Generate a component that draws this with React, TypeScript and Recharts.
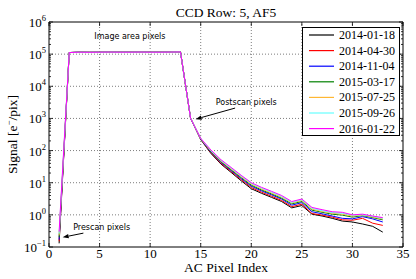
import React from "react";
import {
  LineChart,
  Line,
  XAxis,
  YAxis,
  ReferenceLine,
  ReferenceDot,
  ReferenceArea,
} from "recharts";

// AC pixel index
const pixel = [
  1, 2, 3, 4, 5, 6, 7, 8, 9, 10, 11, 12, 13, 14, 15, 16, 17, 18, 19, 20, 21,
  22, 23, 24, 25, 26, 27, 28, 29, 30, 31, 32, 33,
];

// shared image-area plateau (x = 2..14)
const plateau = [
  1.12e5, 1.15e5, 1.14e5, 1.15e5, 1.16e5, 1.15e5, 1.15e5, 1.16e5, 1.15e5,
  1.15e5, 1.16e5, 1.17e5, 1000,
];

const s20140118 = [0.13, ...plateau, 220, 82, 38, 21, 11.5, 6.5, 4.7, 3.5, 2.6, 1.65, 1.95, 1.05, 0.92, 0.78, 0.64, 0.6, 0.52, 0.44, 0.29];
const s20140430 = [0.15, ...plateau, 225, 86, 40, 22.5, 12.5, 7.1, 5.1, 3.8, 2.8, 1.8, 2.15, 1.1, 0.98, 0.85, 0.7, 0.68, 0.78, 0.55, 0.47];
const s20141104 = [0.17, ...plateau, 228, 90, 43, 24, 13.5, 7.8, 5.6, 4.2, 3.1, 2.0, 2.4, 1.25, 1.08, 0.92, 0.78, 0.75, 0.88, 0.75, 0.6];
const s20150317 = [0.2, ...plateau, 232, 94, 45.5, 25.5, 14.5, 8.4, 6.0, 4.5, 3.3, 2.2, 2.6, 1.4, 1.2, 1.05, 0.98, 0.85, 0.95, 0.82, 0.7];
const s20150725 = [0.23, ...plateau, 235, 97, 47.5, 27, 15.3, 9.0, 6.4, 4.8, 3.55, 2.35, 2.8, 1.5, 1.28, 1.12, 1.05, 0.92, 0.98, 0.86, 0.74];
const s20150926 = [0.26, ...plateau, 238, 100, 49.5, 28.5, 16.2, 9.5, 6.8, 5.1, 3.75, 2.45, 2.95, 1.6, 1.35, 1.18, 1.12, 0.98, 1.0, 0.9, 0.78];
const s20160122 = [0.3, ...plateau, 240, 105, 52, 30, 17, 10, 7.2, 5.4, 4.0, 2.6, 3.1, 1.7, 1.45, 1.25, 1.2, 1.0, 1.05, 0.92, 0.82];

const seriesNames = [
  "2014-01-18",
  "2014-04-30",
  "2014-11-04",
  "2015-03-17",
  "2015-07-25",
  "2015-09-26",
  "2016-01-22",
];
const seriesValues = [
  s20140118,
  s20140430,
  s20141104,
  s20150317,
  s20150725,
  s20150926,
  s20160122,
];
const colors = ["#000000", "#ff0000", "#0000ff", "#008000", "#ffb733", "#66ffff", "#ff00ff"];

const xTicks = [0, 5, 10, 15, 20, 25, 30, 35];
const yMajor = [0.1, 1, 10, 100, 1e3, 1e4, 1e5, 1e6];
const yTicks: number[] = [];
yMajor.forEach((d, i) => {
  yTicks.push(d);
  if (i < yMajor.length - 1) for (let k = 2; k <= 9; k++) yTicks.push(d * k);
});

const data = pixel.map((p, i) => {
  const row: Record<string, number> = { x: p };
  seriesValues.forEach((s, j) => (row["s" + j] = s[i]));
  return row;
});

// plot frame (layout)
const W = 416;
const H = 279;
const PL = 49;
const PR = 403;
const PT = 22;
const PB = 247;
const SERIF = "Liberation Serif, Times New Roman, serif";
const SANS = "DejaVu Sans, sans-serif";

function YTick({ y, payload }: any) {
  const v = payload.value;
  const e = Math.log10(v);
  const major = Math.abs(e - Math.round(e)) < 1e-6;
  const len = major ? 4 : 2;
  const exp = Math.round(e);
  return (
    <g>
      <line x1={PL} x2={PL + len} y1={y} y2={y} stroke="#000" strokeWidth={0.8} />
      <line x1={PR - len} x2={PR} y1={y} y2={y} stroke="#000" strokeWidth={0.8} />
      {major && (
        <text x={PL - 3} y={y + 5} textAnchor="end" fontFamily={SERIF} fontSize={13} fill="#000">
          10
          <tspan dy={-6} fontSize={8.5}>
            {exp < 0 ? "\u2212" + Math.abs(exp) : exp}
          </tspan>
        </text>
      )}
    </g>
  );
}

function XTick({ x, payload }: any) {
  return (
    <g>
      <line x1={x} x2={x} y1={PB} y2={PB - 4} stroke="#000" strokeWidth={0.8} />
      <line x1={x} x2={x} y1={PT} y2={PT + 4} stroke="#000" strokeWidth={0.8} />
      <text x={x} y={PB + 11} textAnchor="middle" fontFamily={SERIF} fontSize={13} fill="#000">
        {payload.value}
      </text>
    </g>
  );
}

function Arrow(props: any) {
  const { x1, y1, x2, y2 } = props;
  const a = Math.atan2(y2 - y1, x2 - x1);
  const L = 6;
  const w = 2.2;
  const bx = x2 - L * Math.cos(a);
  const by = y2 - L * Math.sin(a);
  const pts = [
    [x2, y2],
    [bx + w * Math.sin(a), by - w * Math.cos(a)],
    [bx - w * Math.sin(a), by + w * Math.cos(a)],
  ]
    .map((p) => p.join(","))
    .join(" ");
  return (
    <g>
      <line x1={x1} y1={y1} x2={bx} y2={by} stroke="#000" strokeWidth={1} />
      <polygon points={pts} fill="#000" />
    </g>
  );
}

const note = (text: string) => (props: any) => (
  <text x={props.cx} y={props.cy} dy={3} textAnchor="middle" fontFamily={SANS} fontSize={8} fill="#000">
    {text}
  </text>
);

export default function App() {
  return (
    <div style={{ position: "absolute", left: 0, top: 0, width: W, height: H, background: "#fff" }}>
      <LineChart width={W} height={H} data={data} margin={{ top: PT, right: W - PR, bottom: 0, left: 0 }}>
        <XAxis
          type="number"
          dataKey="x"
          domain={[0, 35]}
          ticks={xTicks}
          interval={0}
          tickLine={false}
          axisLine={false}
          tickSize={0}
          height={H - PB}
          tick={<XTick />}
        />
        <YAxis
          scale="log"
          domain={[0.1, 1e6]}
          allowDataOverflow
          ticks={yTicks}
          interval={0}
          tickLine={false}
          axisLine={false}
          tickSize={0}
          width={PL}
          tick={<YTick />}
        />
        {xTicks.slice(1, -1).map((t) => (
          <ReferenceLine key={"gx" + t} x={t} stroke="#444" strokeWidth={0.7} strokeDasharray="1 2" />
        ))}
        {yMajor.slice(1, -1).map((t) => (
          <ReferenceLine key={"gy" + t} y={t} stroke="#444" strokeWidth={0.7} strokeDasharray="1 2" />
        ))}
        {seriesNames.map((n, j) => (
          <Line
            key={n}
            type="linear"
            dataKey={"s" + j}
            name={n}
            stroke={colors[j]}
            strokeWidth={1}
            dot={false}
            isAnimationActive={false}
          />
        ))}
        <ReferenceArea x1={0} x2={35} y1={0.1} y2={1e6} fill="none" stroke="#000" strokeWidth={1} />
        <ReferenceDot x={8} y={3.6e5} r={0} shape={note("Image area pixels")} />
        <ReferenceDot x={19.5} y={3300} r={0} shape={note("Postscan pixels")} />
        <ReferenceDot x={5.2} y={0.42} r={0} shape={note("Prescan pixels")} />
        <ReferenceLine
          segment={[
            { x: 18.4, y: 2100 },
            { x: 14.5, y: 950 },
          ]}
          shape={<Arrow />}
        />
        <ReferenceLine
          segment={[
            { x: 3.4, y: 0.27 },
            { x: 1.35, y: 0.2 },
          ]}
          shape={<Arrow />}
        />
      </LineChart>
      <svg width={W} height={H} style={{ position: "absolute", left: 0, top: 0, pointerEvents: "none" }}>
        <text x={(PL + PR) / 2} y={17} textAnchor="middle" fontFamily={SERIF} fontSize={13.5} fill="#000">
          CCD Row: 5, AF5
        </text>
        <text x={(PL + PR) / 2} y={272} textAnchor="middle" fontFamily={SERIF} fontSize={13.5} fill="#000">
          AC Pixel Index
        </text>
        <text
          transform={`translate(17, ${(PT + PB) / 2}) rotate(-90)`}
          textAnchor="middle"
          fontFamily={SERIF}
          fontSize={13.5}
          fill="#000"
        >
          Signal [e
          <tspan dy={-5} fontSize={9}>
            {"\u2212"}
          </tspan>
          <tspan dy={5}>/pix]</tspan>
        </text>
        <rect x={302.5} y={27.5} width={97} height={108} fill="#fff" stroke="#000" strokeWidth={1} />
        {seriesNames.map((n, j) => {
          const cy = 35 + j * 15.6;
          return (
            <g key={n}>
              <line x1={309} x2={334} y1={cy} y2={cy} stroke={colors[j]} strokeWidth={1.2} />
              <text x={339} y={cy + 4} fontFamily={SERIF} fontSize={12} fill="#000">
                {n}
              </text>
            </g>
          );
        })}
      </svg>
    </div>
  );
}
